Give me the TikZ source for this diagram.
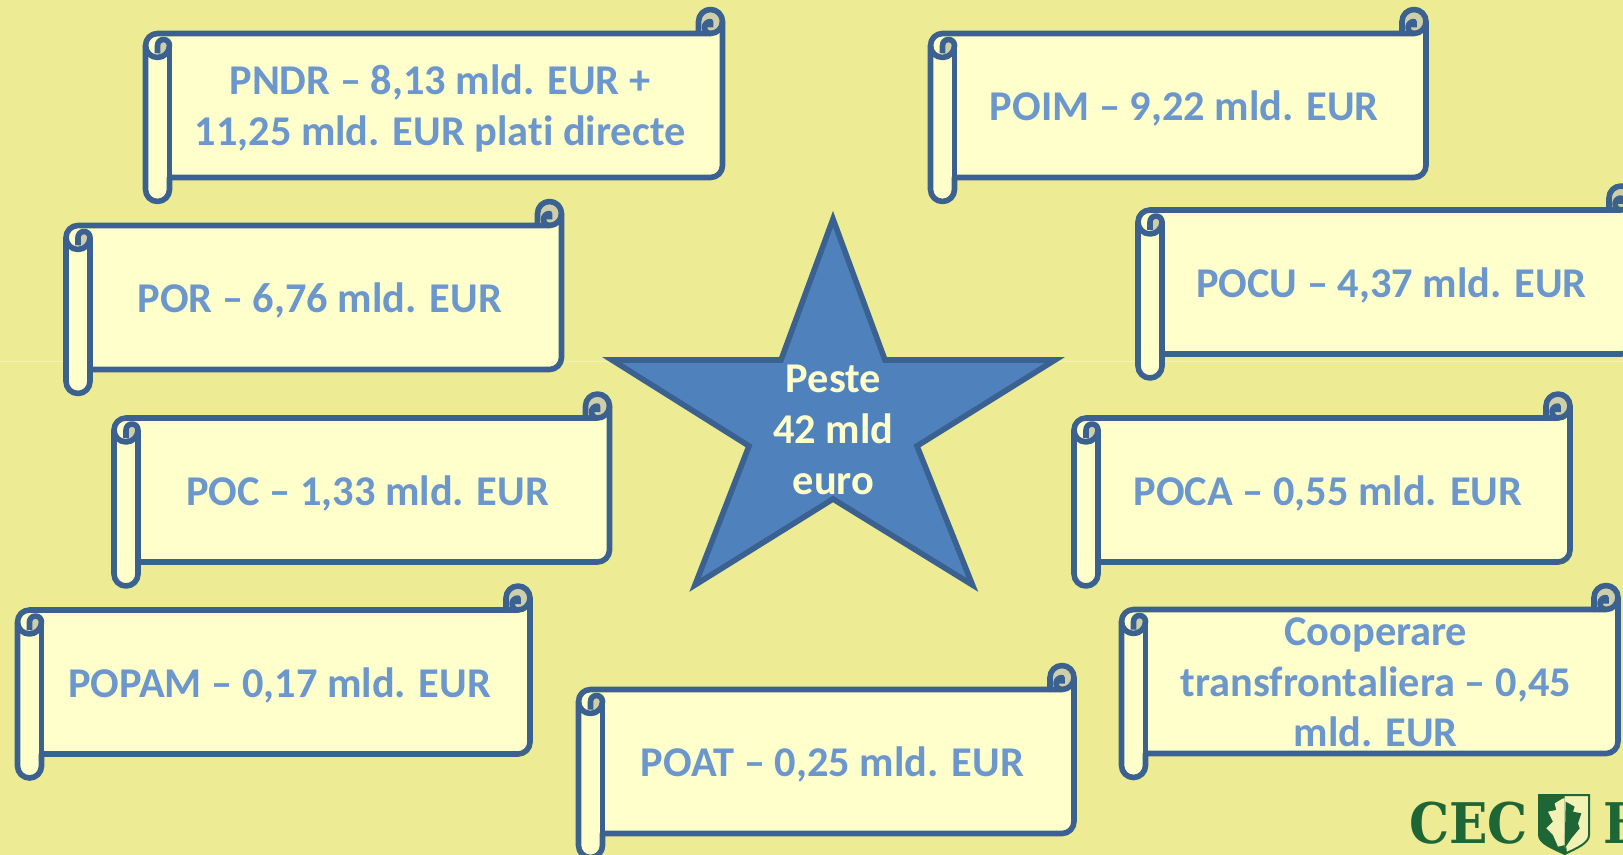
\documentclass[tikz,border=0pt]{standalone}
\usepackage{fontspec}
\setmainfont[Ligatures=NoCommon]{Carlito}
\newfontfamily\logofont{DejaVu Serif}
\definecolor{bgc}{HTML}{EDEC94}
\definecolor{paper}{HTML}{FFFFCC}
\definecolor{edgec}{HTML}{3A6190}
\definecolor{curl}{HTML}{CECEAA}
\definecolor{txtc}{HTML}{6B97CC}
\definecolor{starc}{HTML}{4F81BD}
\definecolor{logoc}{HTML}{1F6636}
\tikzset{
  outl/.style={draw=edgec,line width=4.2pt,line join=round},
  scrolltxt/.style={align=center,font=\fontsize{31.8}{38}\selectfont\bfseries,text=txtc,inner sep=0pt},
  startxt/.style={align=center,font=\fontsize{31.8}{38}\selectfont\bfseries,text=paper,inner sep=0pt},
  logotxt/.style={anchor=base west,inner sep=0pt,text=logoc,xscale=0.9,font=\logofont\fontsize{42}{42}\selectfont\bfseries},
}
% [#1 text y], #2 name, #3 left, #4 top, #5 width, #6 text
\newcommand{\scrollbox}[6][-99]{%
\begin{scope}[shift={(#3,-#4)}]
  \fill[paper] (0,-36) arc (180:90:12) -- (#5-24,-24) -- (#5-24,-12) arc (180:0:12)
     -- (#5,-156) arc (0:-90:12) -- (24,-168) -- (24,-180) arc (0:-180:12) -- cycle;
  \fill[curl] (#5-12,-12) circle (12);
  \fill[curl] (12,-36) arc (180:0:6) arc (0:-90:12) -- cycle;
  \draw[outl] (0,-36) arc (180:90:12) -- (#5-24,-24) -- (#5-24,-12) arc (180:0:12)
     -- (#5,-156) arc (0:-90:12) -- (24,-168) -- (24,-180) arc (0:-180:12) -- cycle;
  \draw[outl] (#5,-12) arc (0:-90:12) -- (#5-24,-24);
  \draw[outl] (#5-12,-24) arc (-90:-270:6) -- (#5-12,-18);
  \draw[outl] (0,-36) arc (180:360:12) arc (0:180:6) -- (12,-44);
  \draw[outl] (24,-36) -- (24,-168);
  \node[scrolltxt] (#2) at (#5/2+6,#1) {#6};
\end{scope}}
\begin{document}
\begin{tikzpicture}[x=0.75pt,y=0.75pt]
\useasboundingbox (0,-855) rectangle (1623,0);
\clip (0,-855) rectangle (1623,0);
\fill[bgc] (0,-855) rectangle (1623,0);
\draw[line width=0.6pt,color=bgc!65!white] (0,-361) -- (1623,-361);

\scrollbox{pndr}{145.5}{9.5}{577}{PNDR – 8,13 mld. EUR +\\11,25 mld. EUR plati directe}
\scrollbox{poim}{930.5}{9.5}{495.5}{POIM – 9,22 mld. EUR}
\scrollbox{por}{66}{201.5}{495.5}{POR – 6,76 mld. EUR}
\scrollbox{pocu}{1138}{186}{495}{POCU – 4,37 mld. EUR}
\scrollbox{poc}{114}{394}{495.5}{POC – 1,33 mld. EUR}
\scrollbox{poca}{1074}{394}{496}{POCA – 0,55 mld. EUR}
\scrollbox{popam}{17.5}{586}{512.5}{POPAM – 0,17 mld. EUR}
\scrollbox{poat}{578.5}{665.5}{495.5}{POAT – 0,25 mld. EUR}
\scrollbox[-97]{coop}{1121.5}{585.5}{496.5}{Cooperare\\transfrontaliera – 0,45\\mld. EUR}

% star
\draw[fill=starc,draw=edgec,line width=4.2pt,miter limit=10]
  (833,-219) -- (885,-360) -- (1055,-360) -- (917,-446) -- (972.5,-585)
  -- (833,-499) -- (695,-585) -- (749,-446) -- (612,-360) -- (781,-360) -- cycle;
\node[startxt] (star) at (833.5,-430) {Peste\\42 mld\\euro};

% logo
\node[logotxt] (cec) at (1409,-843) {CEC};
\node[logotxt] (bank) at (1603,-843) {B};
\begin{scope}[x=0.25pt,y=0.25pt,shift={(4149,-2280)}]
  \path[fill=bgc!70!white,draw=logoc,line width=1.5pt] (468,-105) -- (618,-105) -- (618,-225)
    .. controls (618,-250) and (580,-265) .. (545,-282)
    .. controls (510,-265) and (468,-250) .. (468,-225) -- cycle;
  \fill[logoc] (468,-105) -- (545,-105) -- (545,-282) .. controls (510,-265) and (468,-250) .. (468,-225) -- cycle;
  \fill[bgc!70!white] (540,-115) -- (515,-130) -- (520,-150) -- (495,-155) -- (510,-185) -- (490,-205)
     -- (510,-225) -- (525,-260) -- (545,-255) -- (545,-115) -- cycle;
  \fill[logoc] (548,-125) -- (575,-140) -- (570,-155) -- (595,-160) -- (585,-190) -- (590,-205)
     -- (565,-235) -- (545,-265) -- (548,-125) -- cycle;
  \fill[logoc] (538,-262) -- (550,-262) -- (552,-282) -- (538,-282) -- cycle;
\end{scope}
\end{tikzpicture}
\end{document}
